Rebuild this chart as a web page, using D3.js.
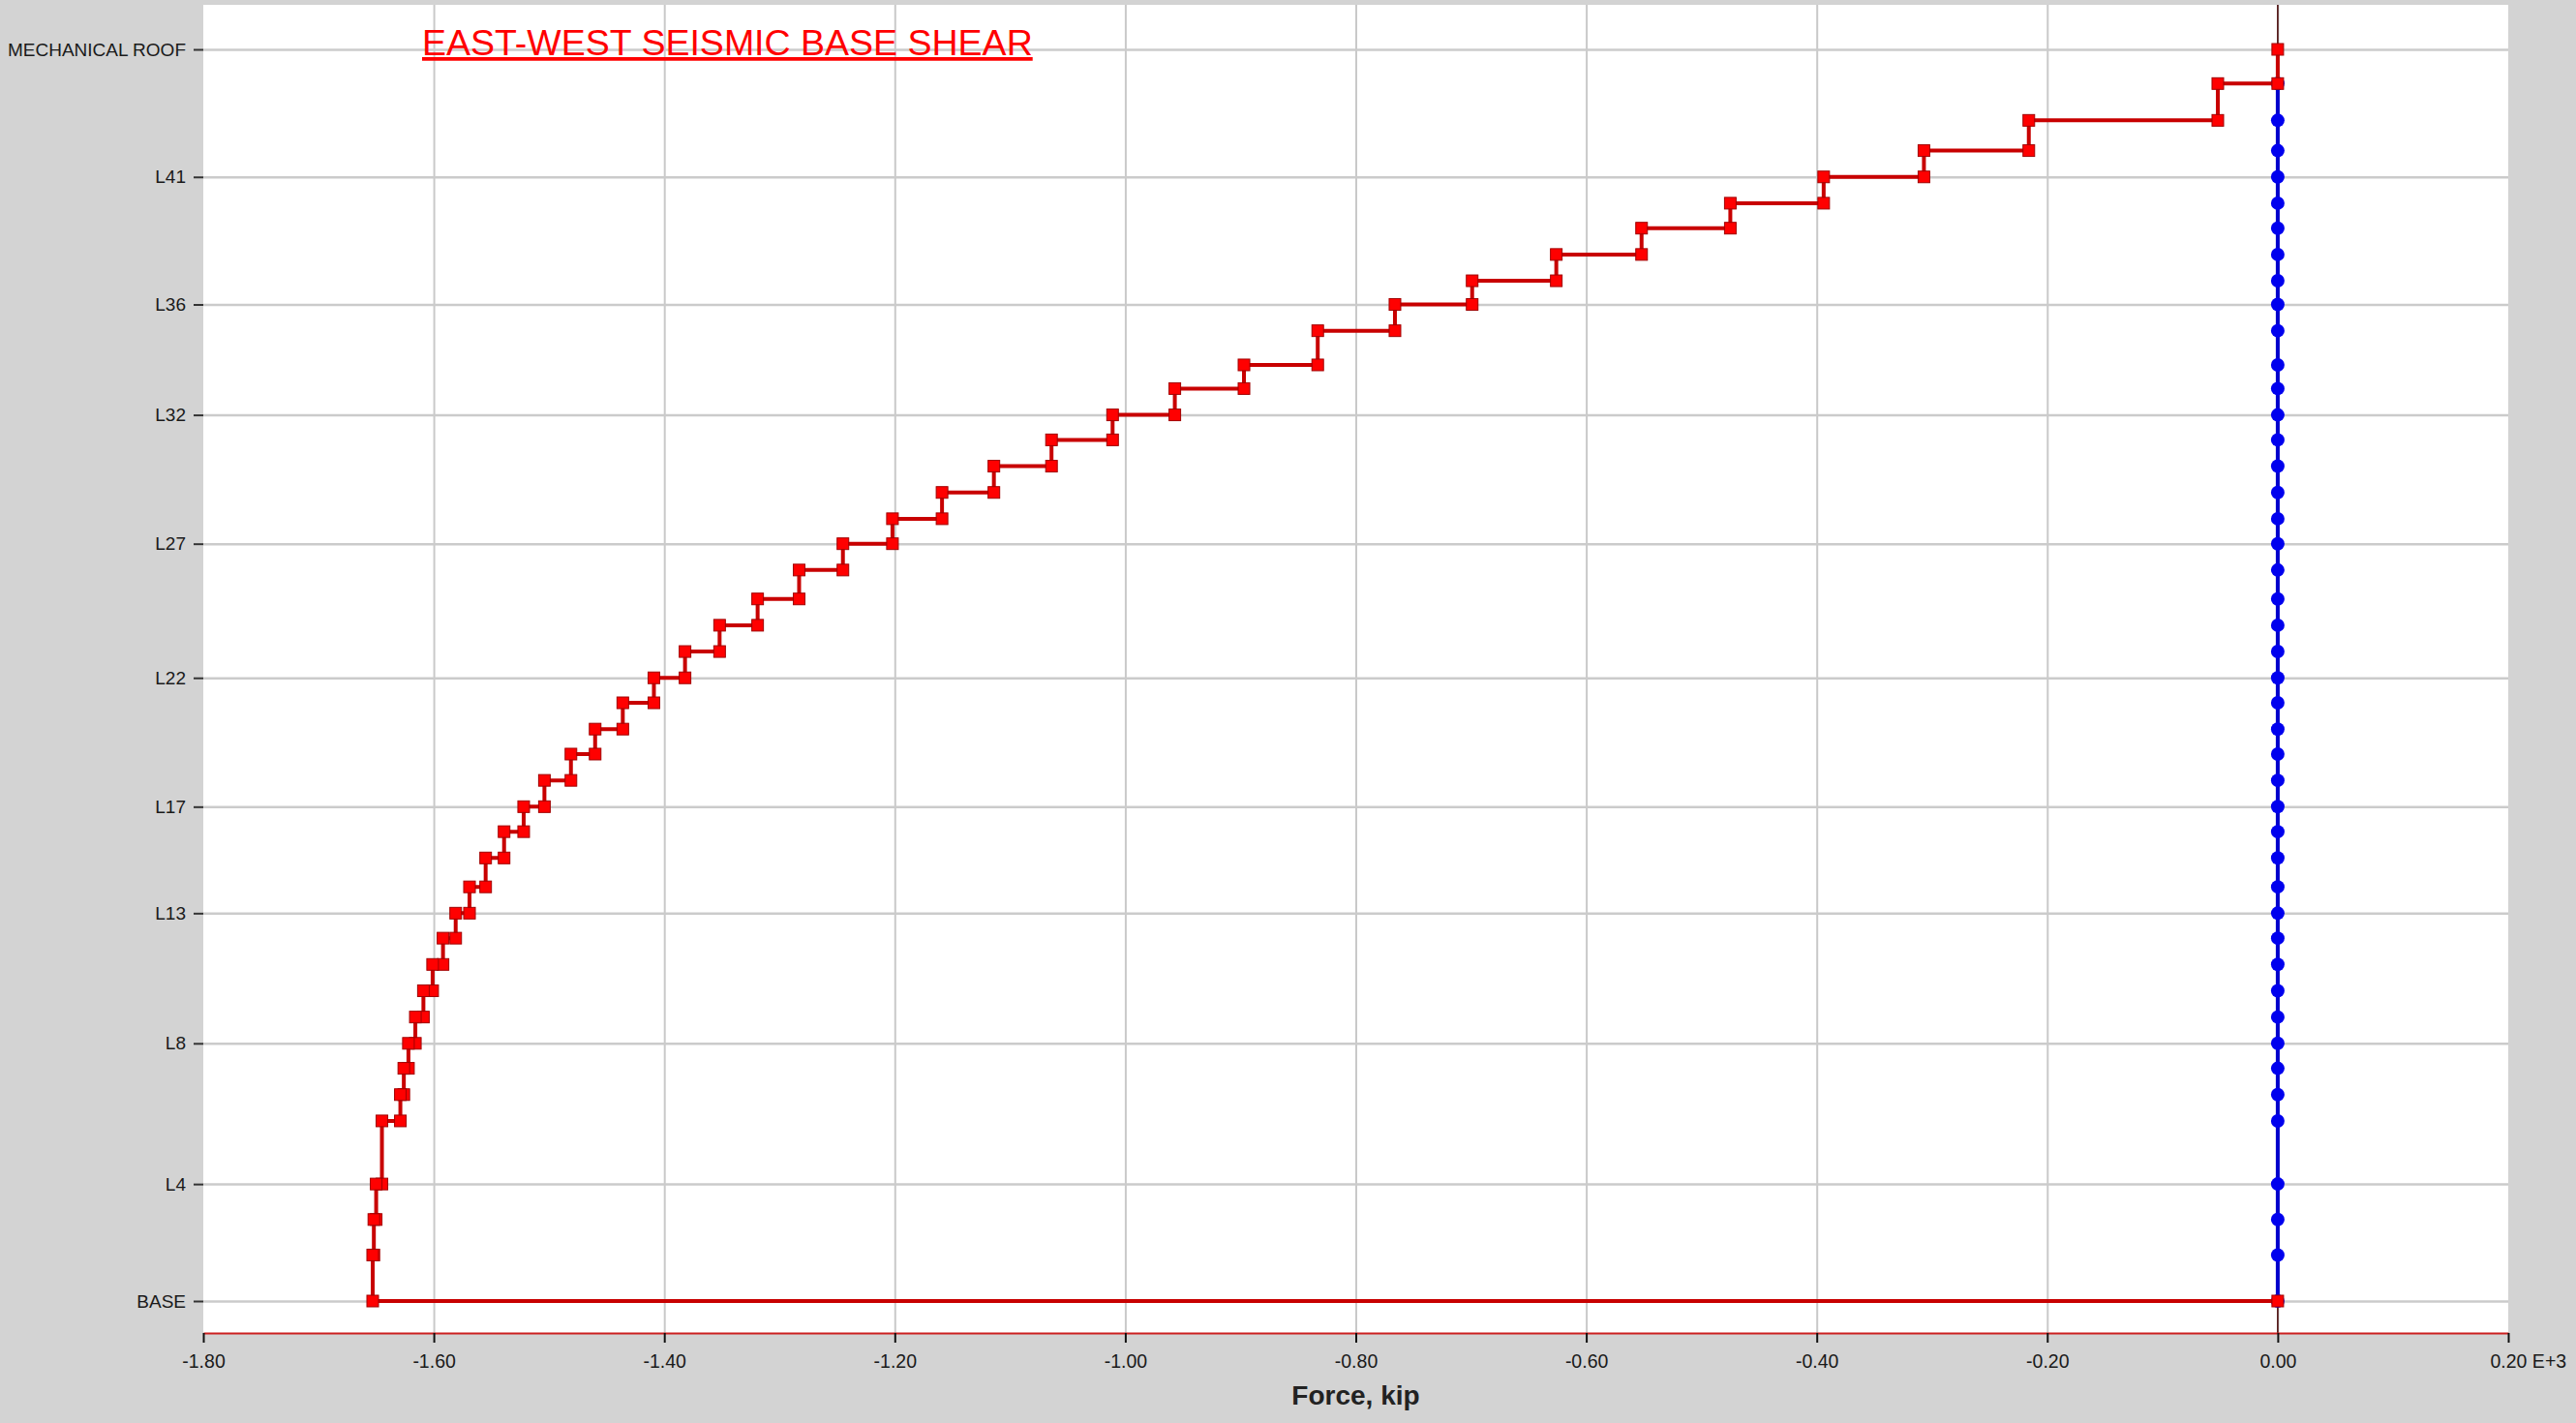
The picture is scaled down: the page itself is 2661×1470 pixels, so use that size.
<!DOCTYPE html>
<html>
<head>
<meta charset="utf-8">
<script src="https://cdn.jsdelivr.net/npm/d3@7"></script>
<style>
  html, body { margin: 0; padding: 0; background: #d3d3d3; }
  svg { display: block; font-family: "Liberation Sans", Arial, sans-serif; }
</style>
</head>
<body>
<div id="chart"></div>
<script>
// ---- data (top of building -> base) ----
const levelNames = ["MECHANICAL ROOF", "UPPER ROOF", "ROOF", "L42", "L41", "L40", "L39", "L38", "L37", "L36",
  "L35", "L34", "L33", "L32", "L31", "L30", "L29", "L28", "L27", "L26", "L25", "L24", "L23", "L22", "L21",
  "L20", "L19", "L18", "L17", "L16", "L15", "L14", "L13", "L12", "L11", "L10", "L9", "L8", "L7", "L6",
  "L5", "L4", "L3", "L2", "BASE"];

// level elevation, ft
const levelElev = [476, 463, 449, 437.5, 427.5, 417.5, 408, 398, 388, 379,
  369, 356, 347, 337, 327.5, 317.5, 307.5, 297.5, 288, 278, 267, 257, 247, 237, 227.5,
  217.5, 208, 198, 188, 178.5, 168.5, 157.5, 147.5, 138, 128, 118, 108, 98, 88.5, 78.5,
  68.5, 44.5, 31, 17.5, 0];

// east-west story shear (E+3 kip), one per story, top story first
const shearEW = [0.000, -0.052, -0.216, -0.307, -0.394, -0.475, -0.552, -0.626, -0.699, -0.766,
  -0.833, -0.897, -0.957, -1.011, -1.064, -1.114, -1.159, -1.202, -1.245, -1.283,
  -1.319, -1.352, -1.382, -1.409, -1.436, -1.460, -1.481, -1.504, -1.522, -1.539,
  -1.555, -1.569, -1.581, -1.592, -1.601, -1.609, -1.616, -1.622, -1.626, -1.629,
  -1.645, -1.650, -1.652, -1.653];
const baseValueEW = 0.000;

// north-south shear at each level from UPPER ROOF down to BASE
const shearNS = [0, 0, 0, 0, 0, 0, 0, 0, 0, 0, 0, 0, 0, 0, 0, 0, 0, 0, 0, 0, 0, 0,
  0, 0, 0, 0, 0, 0, 0, 0, 0, 0, 0, 0, 0, 0, 0, 0, 0, 0, 0, 0, 0, 0];

const yTickLabels = ["MECHANICAL ROOF", "L41", "L36", "L32", "L27", "L22", "L17", "L13", "L8", "L4", "BASE"];
const xTicks = [-1.8, -1.6, -1.4, -1.2, -1.0, -0.8, -0.6, -0.4, -0.2, 0.0, 0.2];

// ---- layout ----
const width = 2661, height = 1470;
const plot = { left: 210, right: 2591, top: 5, bottom: 1377 };

const svg = d3.select("#chart").append("svg")
  .attr("width", width)
  .attr("height", height);

svg.append("rect")
  .attr("x", plot.left).attr("y", plot.top)
  .attr("width", plot.right - plot.left)
  .attr("height", plot.bottom - plot.top)
  .attr("fill", "#fff");

const x = d3.scaleLinear().domain([-1.8, 0.2]).range([plot.left, plot.right]);
const y = d3.scaleLinear().domain([0, 476]).range([1344, 51]);

const elevOf = name => levelElev[levelNames.indexOf(name)];
const yTickVals = yTickLabels.map(elevOf);

// gridlines
const gridX = svg.append("g")
  .attr("transform", `translate(0,${plot.bottom})`)
  .call(d3.axisBottom(x)
    .tickValues(xTicks.slice(1, -1))
    .tickSize(-(plot.bottom - plot.top))
    .tickFormat(""));
gridX.select(".domain").remove();
gridX.selectAll("line").attr("stroke", "#c9c9c9").attr("stroke-width", 2);

const gridY = svg.append("g")
  .attr("transform", `translate(${plot.left},0)`)
  .call(d3.axisLeft(y)
    .tickValues(yTickVals)
    .tickSize(-(plot.right - plot.left))
    .tickFormat(""));
gridY.select(".domain").remove();
gridY.selectAll("line").attr("stroke", "#cbcbcb").attr("stroke-width", 2.5);

// zero line
svg.append("line")
  .attr("x1", x(0)).attr("x2", x(0))
  .attr("y1", plot.top).attr("y2", plot.bottom)
  .attr("stroke", "#4a0c0c")
  .attr("stroke-width", 1.6);

// ---- north-south series (blue) ----
const nsPts = shearNS.map((v, i) => [v, levelElev[i + 1]]);
const line = d3.line().x(d => x(d[0])).y(d => y(d[1]));

svg.append("path")
  .datum(nsPts)
  .attr("d", line)
  .attr("fill", "none")
  .attr("stroke", "#0000cc")
  .attr("stroke-width", 4);

svg.append("g").selectAll("circle")
  .data(nsPts)
  .join("circle")
  .attr("cx", d => x(d[0]))
  .attr("cy", d => y(d[1]))
  .attr("r", 7)
  .attr("fill", "#0000ee");

// ---- east-west series (red step line) ----
const ewPts = [];
shearEW.forEach((v, i) => {
  ewPts.push([v, levelElev[i]]);
  ewPts.push([v, levelElev[i + 1]]);
});
ewPts.push([baseValueEW, levelElev[levelElev.length - 1]]);

svg.append("path")
  .datum(ewPts)
  .attr("d", line)
  .attr("fill", "none")
  .attr("stroke", "#c80000")
  .attr("stroke-width", 4)
  .attr("stroke-linejoin", "miter");

const sq = 12;
svg.append("g").selectAll("rect")
  .data(ewPts)
  .join("rect")
  .attr("x", d => x(d[0]) - sq / 2)
  .attr("y", d => y(d[1]) - sq / 2)
  .attr("width", sq)
  .attr("height", sq)
  .attr("fill", "#ff0000")
  .attr("stroke", "#a00000")
  .attr("stroke-width", 1);

// ---- axes ----
const yAxis = svg.append("g")
  .attr("transform", `translate(${plot.left},0)`)
  .call(d3.axisLeft(y)
    .tickValues(yTickVals)
    .tickSize(10)
    .tickPadding(8)
    .tickFormat((d, i) => yTickLabels[i]));
yAxis.select(".domain").remove();
yAxis.selectAll("line").attr("stroke", "#333").attr("stroke-width", 2);
yAxis.selectAll("text")
  .attr("font-size", 19)
  .attr("font-family", "Liberation Sans, Arial, sans-serif")
  .attr("fill", "#1a1a1a");

const xAxis = svg.append("g")
  .attr("transform", `translate(0,${plot.bottom})`)
  .call(d3.axisBottom(x)
    .tickValues(xTicks)
    .tickSize(10)
    .tickSizeOuter(0)
    .tickPadding(12)
    .tickFormat(d => d.toFixed(2)));
xAxis.select(".domain").attr("stroke", "#cc2020").attr("stroke-width", 2);
xAxis.selectAll("line").attr("stroke", "#111").attr("stroke-width", 2);
xAxis.selectAll("text")
  .attr("font-size", 19.5)
  .attr("font-family", "Liberation Sans, Arial, sans-serif")
  .attr("fill", "#1a1a1a");
// last tick carries the exponent
xAxis.selectAll(".tick").filter(d => d === 0.2).select("text")
  .attr("text-anchor", "start")
  .attr("x", -19)
  .text("0.20 E+3");

// axis title
svg.append("text")
  .attr("x", (plot.left + plot.right) / 2)
  .attr("y", 1451)
  .attr("text-anchor", "middle")
  .attr("font-size", 28)
  .attr("font-weight", "bold")
  .attr("fill", "#222")
  .text("Force, kip");

// chart title
svg.append("text")
  .attr("x", 436)
  .attr("y", 57)
  .attr("font-size", 37.5)
  .attr("fill", "#ff0000")
  .style("text-decoration", "underline")
  .text("EAST-WEST SEISMIC BASE SHEAR");
</script>
</body>
</html>
